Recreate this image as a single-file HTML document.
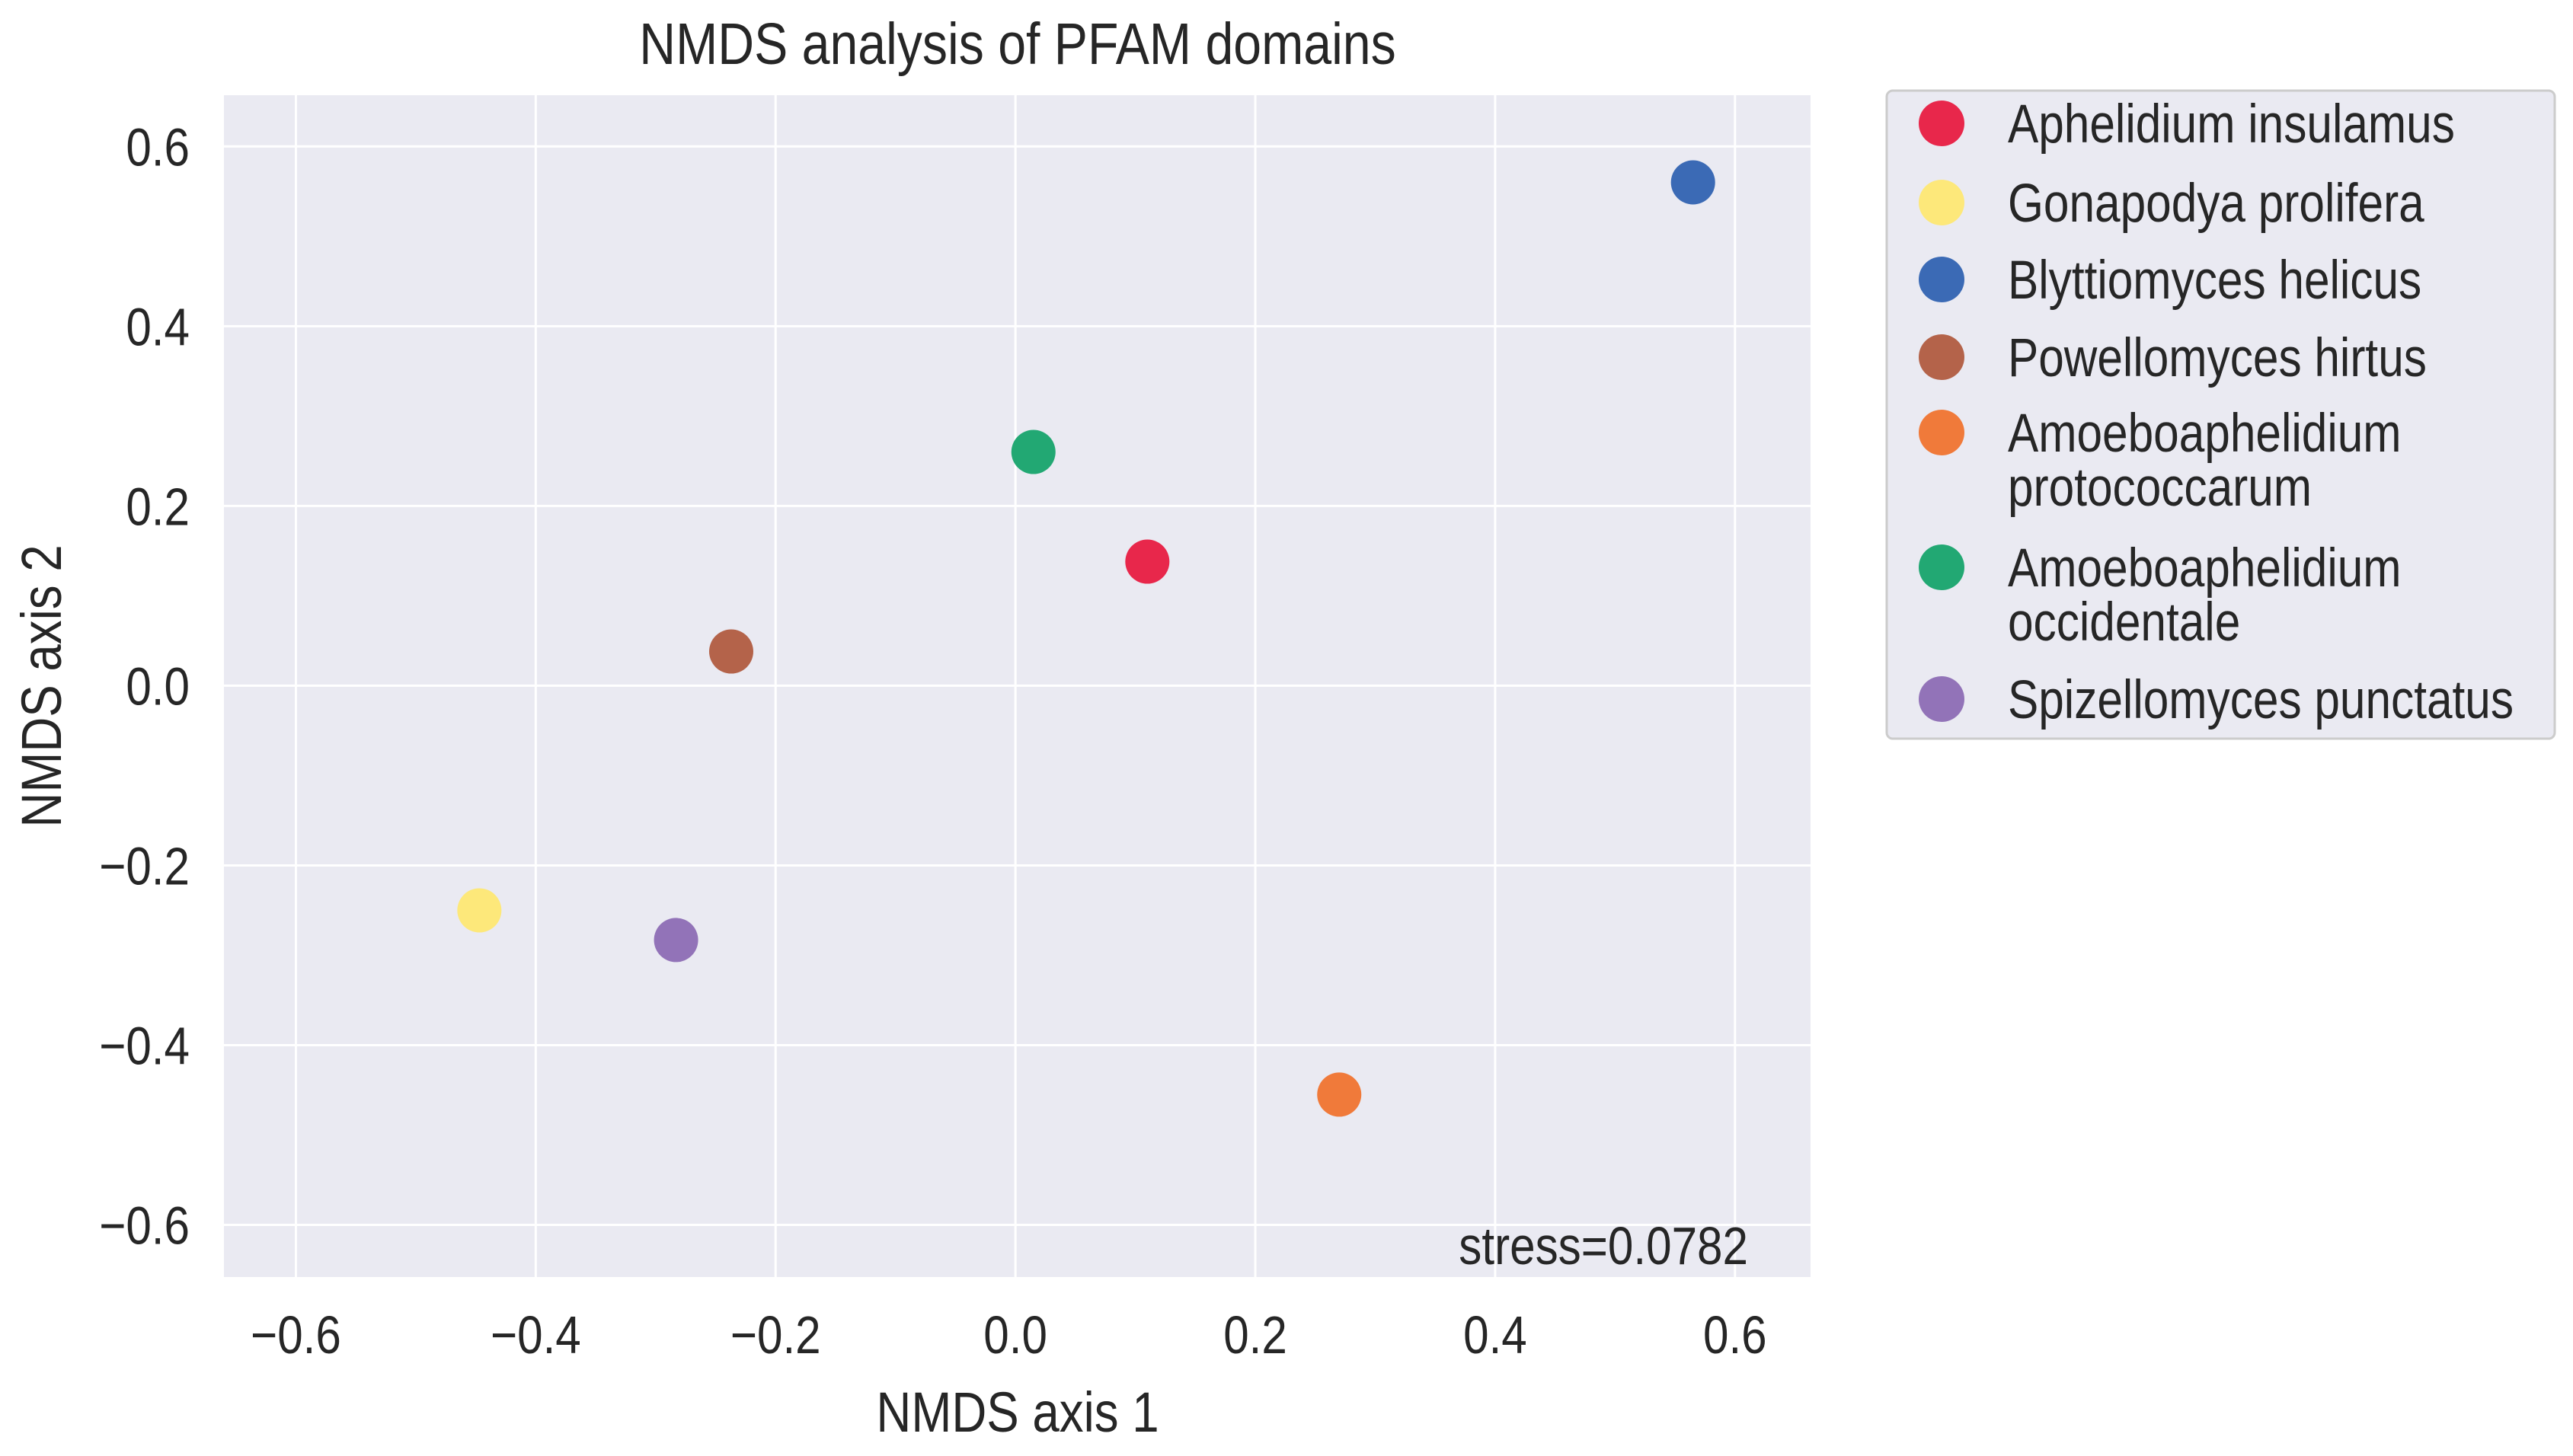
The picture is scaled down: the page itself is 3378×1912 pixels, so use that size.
<!DOCTYPE html>
<html><head><meta charset="utf-8"><style>
html,body{margin:0;padding:0;background:#fff;}
svg{display:block;font-family:"Liberation Sans",sans-serif;}
</style></head><body>
<svg id="chart" width="3378" height="1912" viewBox="0 0 3378 1912">
<rect x="294" y="125" width="2083" height="1552" fill="#eaeaf2"/>
<g id="grid"></g>
<g id="ticks"></g>
<g id="points"></g>
<g transform="translate(1336,84) scale(0.86,1)"><text text-anchor="middle" font-size="77" fill="#262626">NMDS analysis of PFAM domains</text></g>
<g transform="translate(1336,1880) scale(0.86,1)"><text text-anchor="middle" font-size="74" fill="#262626">NMDS axis 1</text></g>
<g transform="translate(80,901) rotate(-90) scale(0.86,1)"><text text-anchor="middle" font-size="74" fill="#262626">NMDS axis 2</text></g>
<g transform="translate(2295,1660) scale(0.86,1)"><text text-anchor="end" font-size="70" fill="#262626">stress=0.0782</text></g>
<g id="legend">
<rect x="2477" y="119" width="877" height="851" rx="8" fill="#eaeaf2" stroke="#cccccc" stroke-width="3"/>
</g>
</svg>
<script>
const names = ["Aphelidium insulamus","Gonapodya prolifera","Blyttiomyces helicus","Powellomyces hirtus","Amoeboaphelidium protococcarum","Amoeboaphelidium occidentale","Spizellomyces punctatus"];
const xVals = [0.11,-0.447,0.565,-0.237,0.27,0.015,-0.283];
const yVals = [0.138,-0.25,0.56,0.038,-0.455,0.26,-0.283];
const colors = ["#e8274b","#fde87a","#3b6ab5","#b4634a","#f07a3a","#22a873","#9273b8"];
const xTicks = [-0.6,-0.4,-0.2,0.0,0.2,0.4,0.6];
const yTicks = [-0.6,-0.4,-0.2,0.0,0.2,0.4,0.6];
const NS='http://www.w3.org/2000/svg';
const X0=294,X1=2377,Y0=125,Y1=1677;
const xMin=-0.66,xMax=0.663,yMin=-0.658,yMax=0.657;
function sx(v){return X0+(v-xMin)/(xMax-xMin)*(X1-X0);}
function sy(v){return Y1-(v-yMin)/(yMax-yMin)*(Y1-Y0);}
function mk(t,a,p){const e=document.createElementNS(NS,t);for(const k in a)e.setAttribute(k,a[k]);p.appendChild(e);return e;}
function fmt(v){return (v<0?'\u2212':'')+Math.abs(v).toFixed(1);}
const grid=document.getElementById('grid'),ticks=document.getElementById('ticks');
xTicks.forEach(v=>{
  const l=mk('line',{x1:sx(v),x2:sx(v),y1:Y0,y2:Y1,stroke:'#fff','stroke-width':3},grid);
  
  
  const g=mk('g',{transform:`translate(${sx(v)},1777) scale(0.86,1)`},ticks);
  
  
  const t=mk('text',{'text-anchor':'middle','font-size':70,fill:'#262626'},g);t.textContent=fmt(v);
});
yTicks.forEach(v=>{
  const l=mk('line',{x1:X0,x2:X1,y1:sy(v),y2:sy(v),stroke:'#fff','stroke-width':3},grid);
  
  
  const g=mk('g',{transform:`translate(249,${sy(v)+25}) scale(0.86,1)`},ticks);
  
  
  const t=mk('text',{'text-anchor':'end','font-size':70,fill:'#262626'},g);t.textContent=fmt(v);
});
const pts=document.getElementById('points');
names.forEach((n,i)=>{
  const c=mk('circle',{cx:sx(xVals[i]),cy:sy(yVals[i]),r:29,fill:colors[i]},pts);
  
  
});
const leg=document.getElementById('legend');
const rowY=[162,266,367,469,568,745,918];
names.forEach((n,i)=>{
  const g=mk('g',{},leg);
  
  
  mk('circle',{cx:2549,cy:rowY[i],r:30,fill:colors[i]},g);
  const parts=n.length>24?n.split(' '):[n];
  parts.forEach((p,j)=>{
    const tg=mk('g',{transform:`translate(2636,${rowY[i]+25+j*71}) scale(0.85,1)`},g);
    const t=mk('text',{'font-size':71,fill:'#262626'},tg);t.textContent=p;
  });
});
</script>
</body></html>
